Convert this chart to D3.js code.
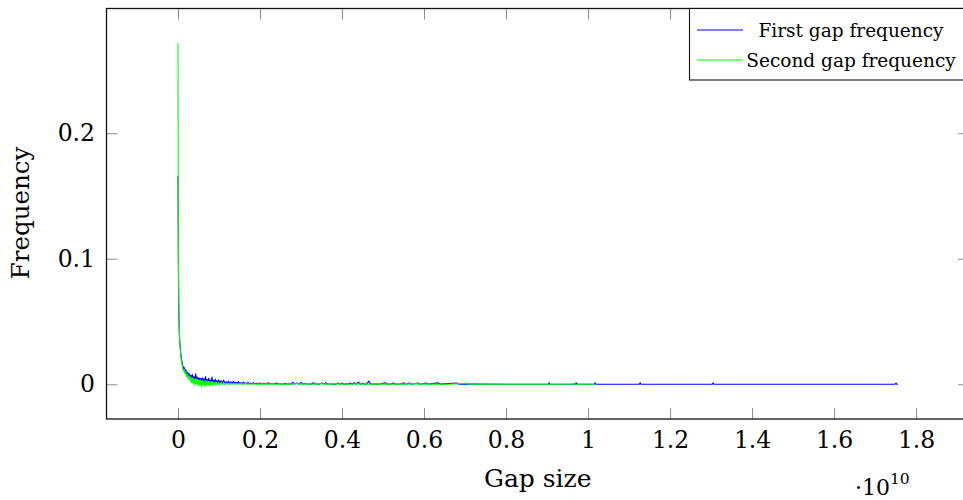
<!DOCTYPE html>
<html>
<head>
<meta charset="utf-8">
<script src="https://cdn.jsdelivr.net/npm/d3@7"></script>
<style>
  html, body { margin: 0; padding: 0; background: #fff; }
  svg { display: block; }
  text { font-family: "DejaVu Serif", serif; fill: #000; }
</style>
</head>
<body>
<svg id="chart" width="963" height="500"></svg>
<script>
// ---- Data (gap size in units of 1e10, frequency) ----
const xTicks = [0, 0.2, 0.4, 0.6, 0.8, 1, 1.2, 1.4, 1.6, 1.8];
const xTickLabels = ["0", "0.2", "0.4", "0.6", "0.8", "1", "1.2", "1.4", "1.6", "1.8"];
const yTicks = [0, 0.1, 0.2];
const yTickLabels = ["0", "0.1", "0.2"];
const seriesNames = ["First gap frequency", "Second gap frequency"];
const seriesColors = ["#0000ff", "#00ff00"];

const firstGap = [
  [0, 0.166], [0.001, 0.09], [0.002, 0.058], [0.003, 0.042], [0.005, 0.031], [0.007, 0.024],
  [0.009, 0.019], [0.011, 0.016], [0.013, 0.0125], [0.015, 0.0135], [0.017, 0.0105], [0.019, 0.0115],
  [0.021, 0.0085], [0.023, 0.0095], [0.025, 0.0068], [0.027, 0.0088], [0.029, 0.0059], [0.031, 0.0072],
  [0.033, 0.0052], [0.035, 0.0078], [0.037, 0.0046], [0.039, 0.0061], [0.041, 0.0039], [0.043, 0.0083],
  [0.045, 0.0044], [0.047, 0.0058], [0.049, 0.0031], [0.051, 0.0052], [0.053, 0.0036], [0.055, 0.0047],
  [0.057, 0.0025], [0.059, 0.0051], [0.061, 0.0029], [0.063, 0.0044], [0.065, 0.0022], [0.067, 0.0062],
  [0.069, 0.0027], [0.071, 0.0038], [0.073, 0.0019], [0.075, 0.0049], [0.077, 0.0024], [0.079, 0.0033],
  [0.081, 0.0017], [0.083, 0.0057], [0.085, 0.0021], [0.087, 0.0031], [0.089, 0.0014], [0.091, 0.0042],
  [0.093, 0.0018], [0.095, 0.0027], [0.097, 0.0011], [0.099, 0.0036], [0.102, 0.0015], [0.105, 0.0029],
  [0.108, 0.0009], [0.111, 0.0033], [0.114, 0.0013], [0.117, 0.0022], [0.120, 0.0008], [0.123, 0.0026],
  [0.126, 0.0011], [0.129, 0.0019], [0.132, 0.0006], [0.135, 0.0024], [0.138, 0.0009], [0.141, 0.0016],
  [0.144, 0.0005], [0.147, 0.0021], [0.150, 0.0008], [0.153, 0.0013], [0.156, 0.0004], [0.159, 0.0018],
  [0.162, 0.0006], [0.165, 0.0011], [0.168, 0.0003], [0.171, 0.0015], [0.174, 0.0005], [0.177, 0.0009],
  [0.180, 0.0003], [0.184, 0.0013], [0.188, 0.0004], [0.192, 0.0008], [0.196, 0.0002], [0.200, 0.0011],
  [0.205, 0.0003], [0.21, 0.0009], [0.215, 0.0002], [0.22, 0.0012], [0.225, 0.0003], [0.23, 0.0006],
  [0.235, 0.0002], [0.24, 0.0010], [0.245, 0.0002], [0.25, 0.0005], [0.255, 0.0001], [0.26, 0.0008],
  [0.265, 0.0002], [0.27, 0.0004], [0.275, 0.0001], [0.28, 0.0016], [0.285, 0.0002], [0.29, 0.0011],
  [0.295, 0.0001], [0.30, 0.0014], [0.305, 0.0002], [0.31, 0.0009], [0.315, 0.0001], [0.32, 0.0003],
  [0.325, 0.0001], [0.33, 0.0012], [0.335, 0.0001], [0.34, 0.0002], [0.345, 0.0001], [0.35, 0.0010],
  [0.355, 0.0001], [0.36, 0.0013], [0.365, 0.0001], [0.37, 0.0004], [0.375, 0.0001], [0.38, 0.0002],
  [0.385, 0.0001], [0.39, 0.0011], [0.395, 0.0001], [0.40, 0.0009], [0.405, 0.0001], [0.41, 0.0003],
  [0.415, 0.0001], [0.42, 0.0010], [0.425, 0.0001], [0.43, 0.0012], [0.435, 0.0001], [0.44, 0.0017],
  [0.445, 0.0001], [0.45, 0.0008], [0.455, 0.0001], [0.46, 0.0001], [0.465, 0.0025], [0.47, 0.0001],
  [0.48, 0.0002], [0.49, 0.0001], [0.505, 0.0012], [0.51, 0.0001], [0.52, 0.0002], [0.525, 0.0011],
  [0.53, 0.0001], [0.545, 0.0002], [0.55, 0.0012], [0.555, 0.0001], [0.565, 0.0010], [0.57, 0.0001],
  [0.585, 0.0011], [0.59, 0.0001], [0.605, 0.0010], [0.61, 0.0001], [0.635, 0.0011], [0.64, 0.0001],
  [0.68, 0.0010], [0.685, 0.0001], [0.73, 0.0001], [0.80, 0], [0.903, 0], [0.905, 0.0012], [0.907, 0],
  [0.968, 0], [0.971, 0.0011], [0.974, 0], [1.015, 0], [1.017, 0.0012], [1.019, 0], [1.125, 0],
  [1.127, 0.0012], [1.129, 0], [1.303, 0], [1.305, 0.0012], [1.307, 0], [1.748, 0], [1.751, 0.0009],
  [1.753, 0.0001], [1.756, 0]
];

const secondGap = [
  [0, 0.272], [0.001, 0.1], [0.002, 0.062], [0.003, 0.043], [0.005, 0.03], [0.007, 0.022],
  [0.009, 0.017], [0.011, 0.0135], [0.013, 0.0105], [0.015, 0.0118], [0.017, 0.0082], [0.019, 0.0097],
  [0.021, 0.0061], [0.023, 0.0079], [0.025, 0.0042], [0.027, 0.0068], [0.029, 0.0031], [0.031, 0.0058],
  [0.033, 0.0012], [0.035, 0.0049], [0.037, 0.0004], [0.039, 0.0046], [0.041, -0.0008], [0.043, 0.0038],
  [0.045, 0.0002], [0.047, 0.0041], [0.049, -0.0014], [0.051, 0.0033], [0.053, -0.0004], [0.055, 0.0036],
  [0.057, -0.0021], [0.059, 0.0028], [0.061, -0.0009], [0.063, 0.0031], [0.065, -0.0017], [0.067, 0.0024],
  [0.069, -0.0011], [0.071, 0.0027], [0.073, -0.0006], [0.075, 0.0021], [0.077, -0.0013], [0.079, 0.0019],
  [0.081, -0.0004], [0.083, 0.0023], [0.085, -0.0009], [0.087, 0.0016], [0.089, -0.0003], [0.091, 0.0018],
  [0.093, -0.0007], [0.095, 0.0013], [0.097, 0.0001], [0.099, 0.0015], [0.102, -0.0005], [0.105, 0.0012],
  [0.108, 0.0000], [0.111, 0.0011], [0.114, -0.0003], [0.117, 0.0009], [0.120, 0.0001], [0.123, 0.0010],
  [0.126, -0.0002], [0.129, 0.0007], [0.132, 0.0001], [0.135, 0.0008], [0.138, -0.0001], [0.141, 0.0006],
  [0.144, 0.0001], [0.147, 0.0007], [0.150, 0.0000], [0.155, 0.0005], [0.160, 0.0001], [0.165, 0.0006],
  [0.170, 0.0000], [0.175, 0.0004], [0.180, 0.0001], [0.185, 0.0005], [0.190, 0.0000], [0.195, 0.0003],
  [0.200, 0.0001], [0.21, 0.0003], [0.22, 0.0001], [0.23, 0.0004], [0.24, 0.0000], [0.25, 0.0003],
  [0.26, 0.0001], [0.27, 0.0002], [0.28, 0.0000], [0.29, 0.0008], [0.295, 0.0001], [0.31, 0.0003],
  [0.32, 0.0001], [0.33, 0.0002], [0.34, 0.0000], [0.35, 0.0007], [0.355, 0.0001], [0.37, 0.0002],
  [0.38, 0.0000], [0.39, 0.0006], [0.395, 0.0001], [0.41, 0.0002], [0.42, 0.0000], [0.44, 0.0004],
  [0.45, 0.0001], [0.47, 0.0001], [0.50, 0.0002], [0.52, 0.0001], [0.55, 0.0001], [0.585, 0.0005],
  [0.59, 0.0001], [0.62, 0.0001], [0.66, 0.0000], [0.705, 0.0008], [0.71, 0.0000], [0.80, 0.0000],
  [0.90, 0.0000], [0.962, 0], [0.965, 0.0008], [0.968, 0], [1.017, 0]
];

const seriesData = [firstGap, secondGap];

// ---- Layout ----
const svg = d3.select("#chart");
const L = 106.5, R = 969, T = 8.5, B = 419;

const x = d3.scaleLinear().domain([-0.1744, 1.929]).range([L, R]);
const y = d3.scaleLinear().domain([-0.02765, 0.2994]).range([B, T]);

svg.append("defs").append("clipPath").attr("id", "clip")
  .append("rect").attr("x", L).attr("y", T).attr("width", R - L).attr("height", B - T);

// Axes (inward ticks)
const tickLen = 11;
const fmtX = d => xTickLabels[xTicks.indexOf(d)];
const fmtY = d => yTickLabels[yTicks.indexOf(d)];

const gx = svg.append("g").attr("transform", `translate(0,${B})`)
  .call(d3.axisBottom(x).tickValues(xTicks).tickFormat(fmtX).tickSize(-tickLen).tickPadding(12.5));
const gxTop = svg.append("g").attr("transform", `translate(0,${T})`)
  .call(d3.axisTop(x).tickValues(xTicks).tickFormat("").tickSize(-tickLen));
const gy = svg.append("g").attr("transform", `translate(${L},0)`)
  .call(d3.axisLeft(y).tickValues(yTicks).tickFormat(fmtY).tickSize(-tickLen).tickPadding(11.5));
const gyR = svg.append("g").attr("transform", `translate(${R},0)`)
  .call(d3.axisRight(y).tickValues(yTicks).tickFormat("").tickSize(-tickLen));

[gx, gxTop, gy, gyR].forEach(g => {
  g.select(".domain").remove();
  g.selectAll(".tick line").attr("stroke", "#8c8c8c").attr("stroke-width", 1);
});
gx.selectAll(".tick text").style("font-size", "23.5px").attr("fill", "#000");
gy.selectAll(".tick text").style("font-size", "23.5px").attr("fill", "#000");

// Lines
const line = d3.line().x(d => x(d[0])).y(d => y(d[1]));
const plot = svg.append("g").attr("clip-path", "url(#clip)");
seriesData.forEach((s, i) => {
  plot.append("path")
    .datum(s)
    .attr("fill", "none")
    .attr("stroke", seriesColors[i])
    .attr("stroke-width", 1.1)
    .attr("stroke-linejoin", "round")
    .attr("d", line);
});

// Frame
svg.append("rect")
  .attr("x", L).attr("y", T).attr("width", R - L).attr("height", B - T)
  .attr("fill", "none").attr("stroke", "#111").attr("stroke-width", 1.3);

// Legend
const lg = svg.append("g");
lg.append("rect")
  .attr("x", 689.5).attr("y", T).attr("width", 290).attr("height", 80 - T)
  .attr("fill", "#fff").attr("stroke", "#111").attr("stroke-width", 1.1);
const legendRows = [30, 60];
seriesNames.forEach((name, i) => {
  lg.append("line")
    .attr("x1", 697).attr("x2", 743)
    .attr("y1", legendRows[i]).attr("y2", legendRows[i])
    .attr("stroke", seriesColors[i]).attr("stroke-width", 1.1);
  lg.append("text")
    .attr("x", 851).attr("y", legendRows[i] + 7)
    .attr("text-anchor", "middle")
    .style("font-size", "18.5px")
    .text(name);
});

// Axis labels
svg.append("text")
  .attr("x", (L + R) / 2).attr("y", 487)
  .attr("text-anchor", "middle")
  .style("font-size", "25px")
  .text("Gap size");

svg.append("text")
  .attr("transform", "translate(29,213) rotate(-90)")
  .attr("text-anchor", "middle")
  .style("font-size", "24.5px")
  .text("Frequency");

const sci = svg.append("text").attr("x", 855).attr("y", 495).style("font-size", "22px");
sci.append("tspan").text("\u00B710");
sci.append("tspan").attr("dy", -11).style("font-size", "15.5px").text("10");
</script>
</body>
</html>
